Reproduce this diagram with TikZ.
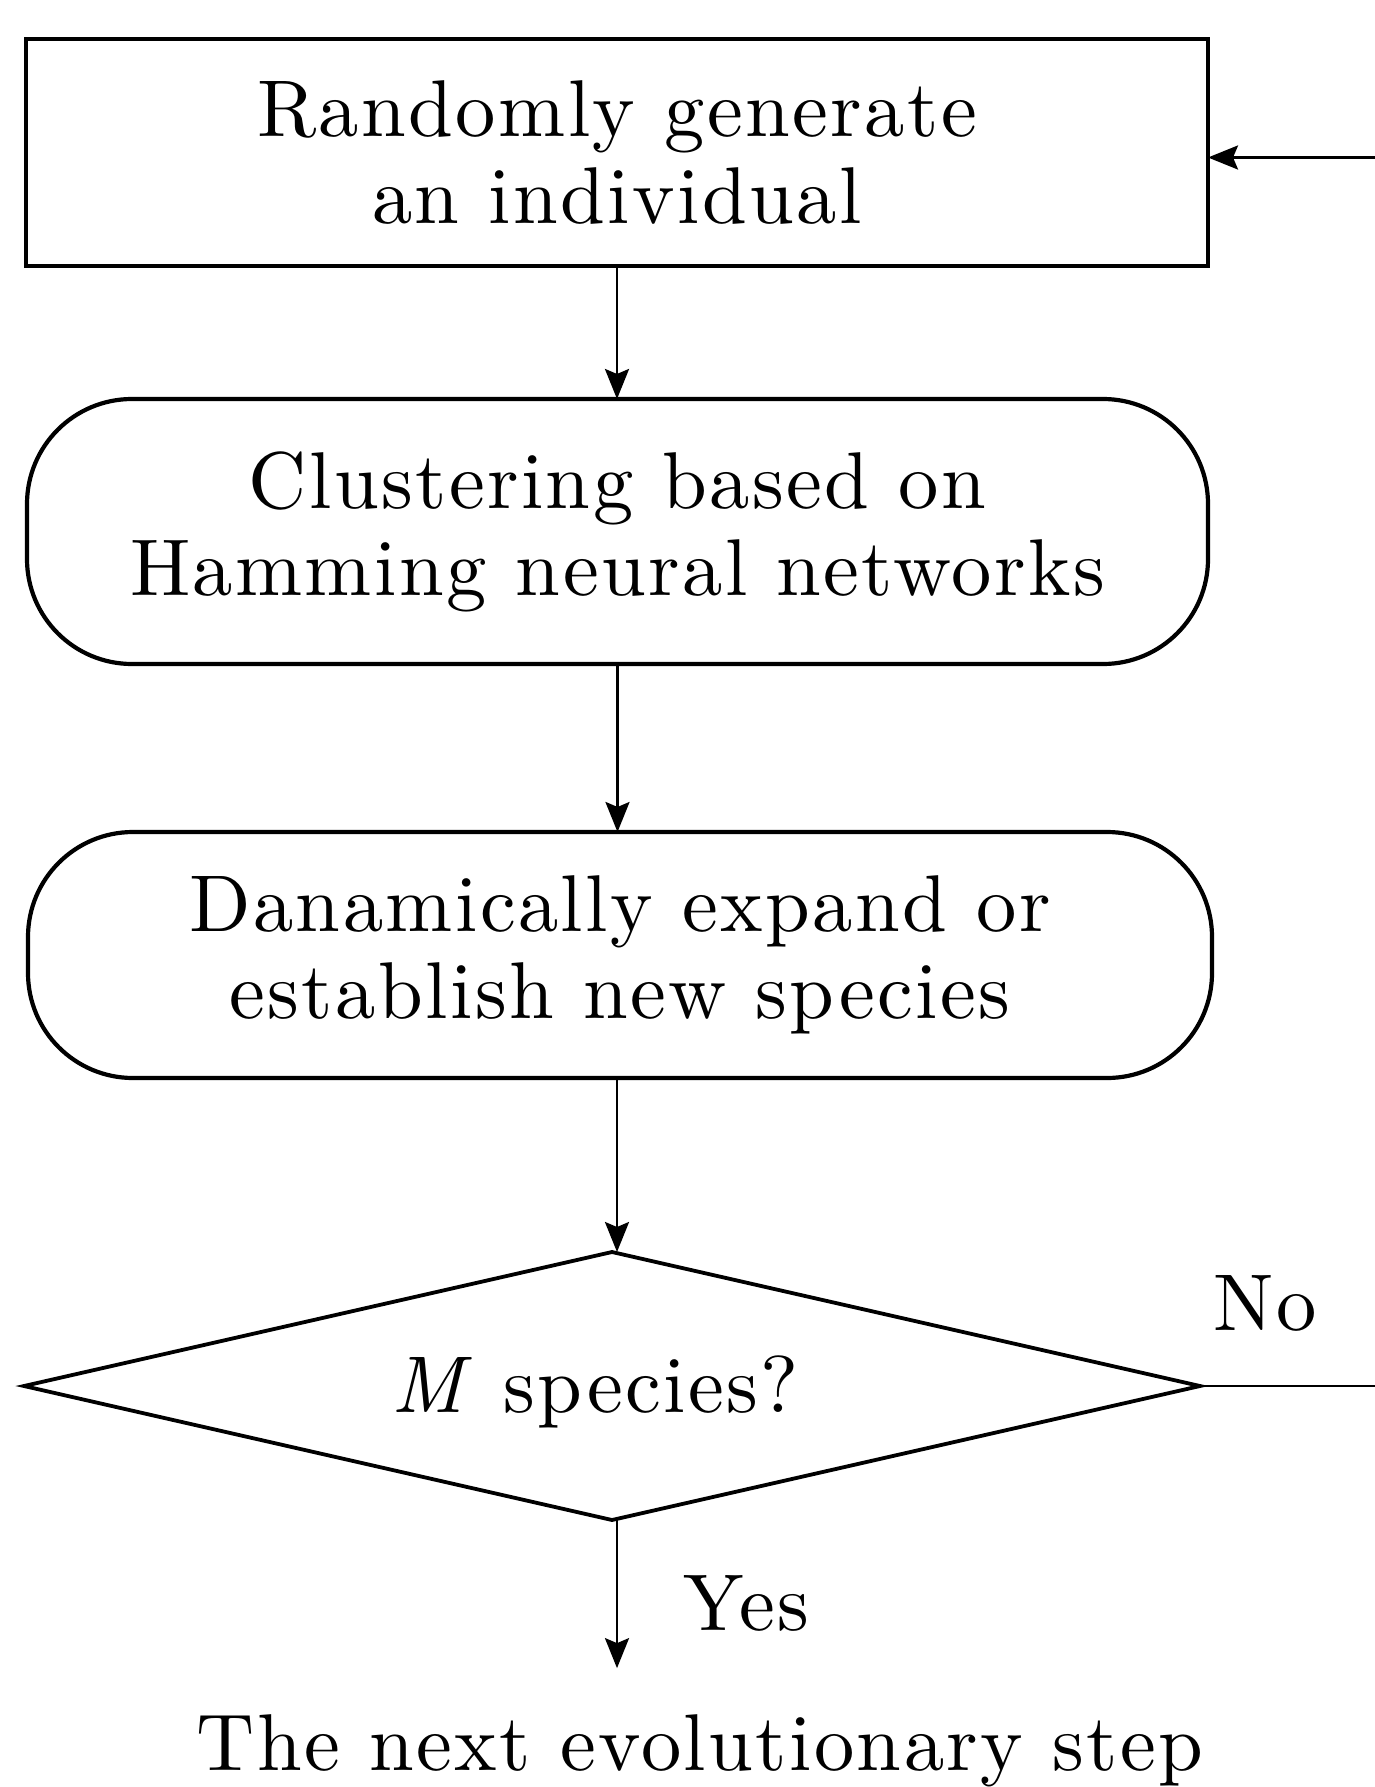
\documentclass[tikz,border=0pt]{standalone}
\usepackage{fontspec}
\setmainfont{lmroman10-regular.otf}[ItalicFont=lmroman10-italic.otf, BoldFont=lmroman10-bold.otf, LetterSpace=3]
\usetikzlibrary{shapes.geometric,arrows.meta}

\begin{document}
\begin{tikzpicture}[x=1pt,y=-1pt,
  every node/.style={font=\fontsize{80.5}{87}\selectfont, inner sep=0pt, outer sep=0pt},
  box/.style={draw, line width=4.2pt, align=center},
  procbox/.style={box, rectangle},
  roundbox/.style={box, rectangle, rounded corners=105pt},
  decision/.style={draw, line width=3.8pt, diamond},
  flow/.style={line width=2.8pt, -{Stealth[length=30pt,width=24pt,inset=5pt]}},
]
\useasboundingbox (0,0) rectangle (1375,1787);

% process steps
\node[procbox, minimum width=1182pt, minimum height=227pt] (gen) at (617,152.5)
  {Randomly generate\\an individual};
\node[roundbox, minimum width=1181pt, minimum height=265pt] (clust) at (617.5,531.5)
  {Clustering based on\\Hamming neural networks};
\node[roundbox, minimum width=1184pt, minimum height=246pt] (expand) at (620,955)
  {Danamically expand or\\establish new species};

% decision
\node[decision, minimum width=1176pt, minimum height=268pt] (dia) at (612,1386) {};
\node (q) at (595,1392) {\textit{M} species?};

% labels and final text
\node (no) at (1265,1303) {No};
\node (yes) at (746,1603) {Yes};
\node[anchor=base] (next) at (700,1770) {The next evolutionary step};

% connectors
\draw[flow] (gen.south) -- (gen.south |- clust.north);
\draw[flow] (clust.south) -- (clust.south |- expand.north);
\draw[flow] (gen.south |- expand.south) -- (gen.south |- dia.north);
\draw[flow, shorten >=46pt] (gen.south |- dia.south) -- (gen.south |- next.north);
\draw[flow] (dia.east) -- ++(220,0) coordinate (loop) |- ([yshift=-5pt]gen.east);
\end{tikzpicture}
\end{document}
